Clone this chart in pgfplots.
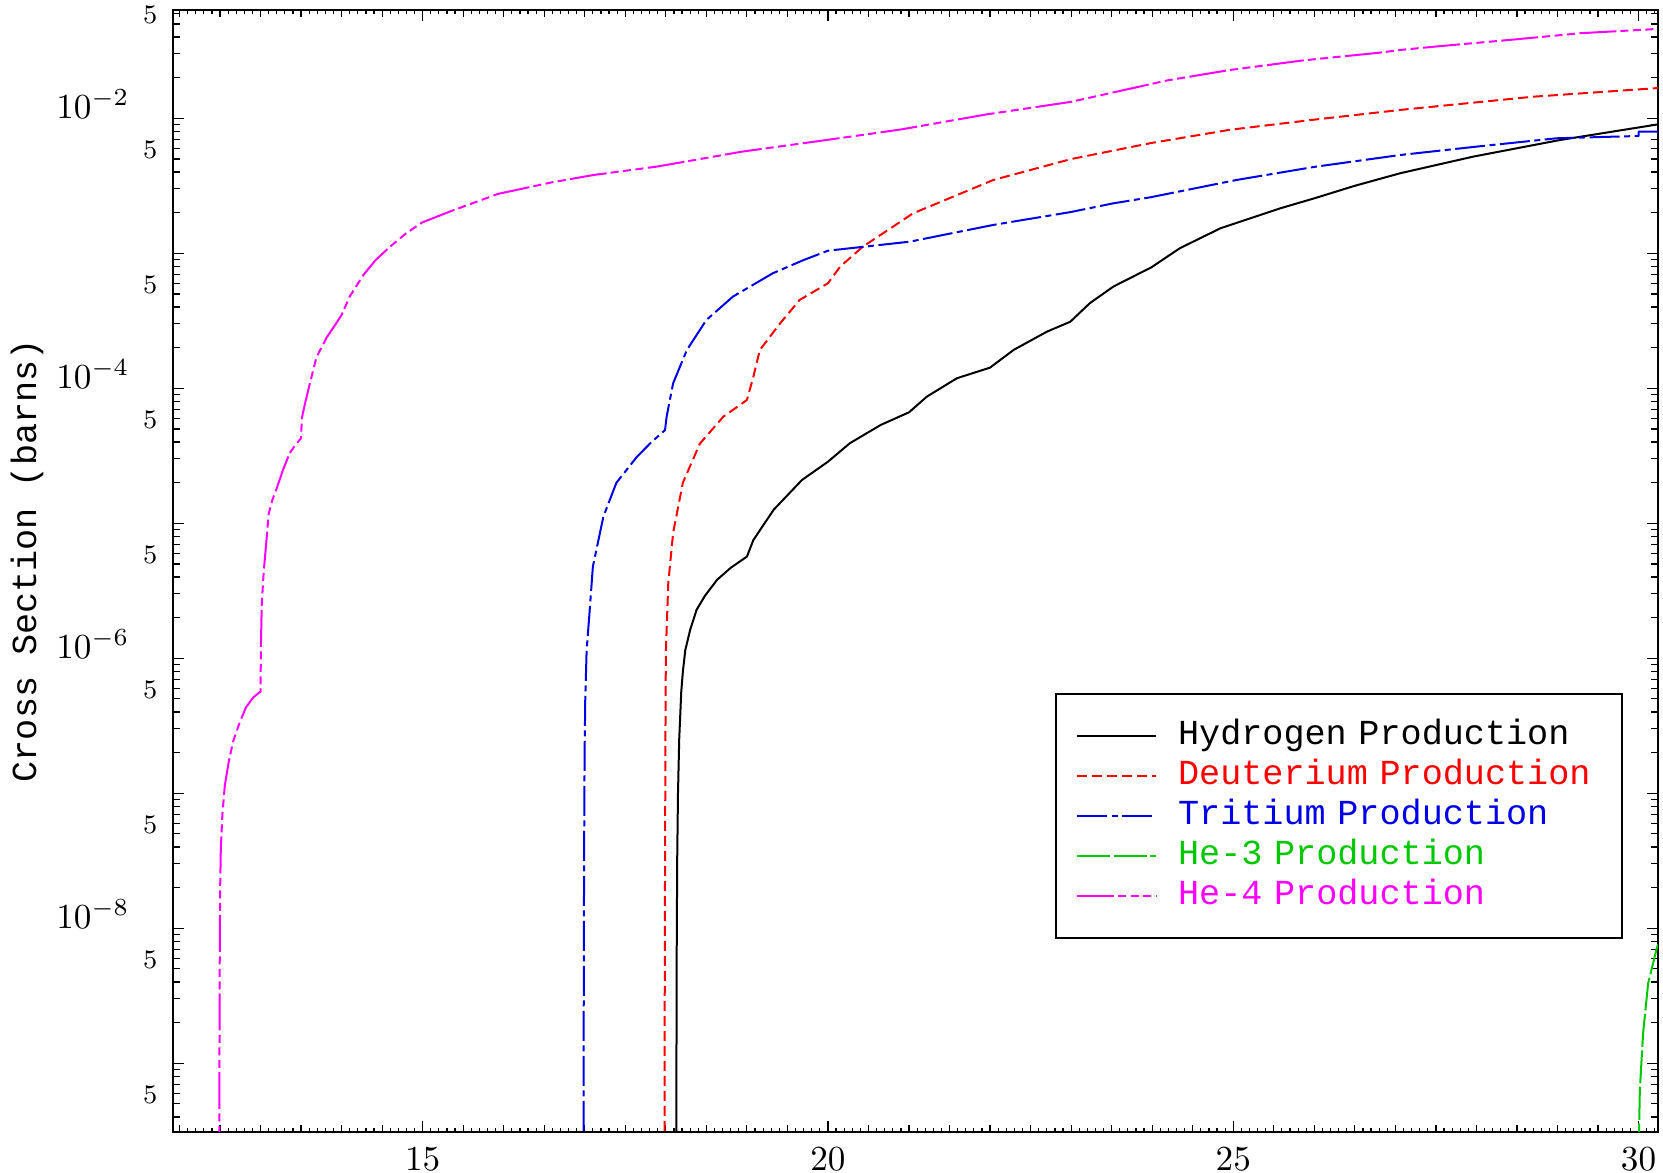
\documentclass[border=0pt]{standalone}
\usepackage{fontspec}
\usepackage{pgfplots}
\pgfplotsset{compat=1.18}
\newfontfamily\monofont{Liberation Mono}
\newcommand\labfont{\monofont\fontsize{10}{11}\selectfont}
\definecolor{hblue}{RGB}{0,0,230}
\definecolor{hgreen}{RGB}{0,200,0}
\definecolor{hmag}{RGB}{255,0,255}

\begin{document}
\begin{tikzpicture}
\begin{axis}[
    at={(0,0)}, anchor=south west,
    width=148.5mm, height=112.17mm, scale only axis,
    ymode=log,
    xmin=11.92, xmax=30.24,
    ymin=3.11e-10, ymax=6.34e-2,
    axis line style={line width=0.22mm},
    every tick/.style={black, line width=0.12mm},
    major tick length=1.12mm,
    minor tick length=0.67mm,
    minor x tick style={/pgfplots/minor tick length=0.4mm},
    xtick={15,20,25,30},
    minor xtick={12,12.1,...,30.2},
    extra x ticks={12,12.5,...,30},
    extra x tick labels={},
    extra x tick style={major tick length=0.67mm},
    xticklabel style={font=\fontsize{9.8}{10}\selectfont, inner sep=0pt, yshift=-1.5mm},
    ytick={1e-9,1e-8,1e-7,1e-6,1e-5,1e-4,1e-3,1e-2},
    yticklabels={,$10^{-8}$,,$10^{-6}$,,$10^{-4}$,,$10^{-2}$},
    yticklabel style={font=\fontsize{9.6}{10}\selectfont, anchor=base east, inner sep=0pt, xshift=-4.3mm},
    minor ytick={4e-10,5e-10,6e-10,7e-10,8e-10,9e-10,
                 2e-9,3e-9,4e-9,5e-9,6e-9,7e-9,8e-9,9e-9,
                 2e-8,3e-8,4e-8,5e-8,6e-8,7e-8,8e-8,9e-8,
                 2e-7,3e-7,4e-7,5e-7,6e-7,7e-7,8e-7,9e-7,
                 2e-6,3e-6,4e-6,5e-6,6e-6,7e-6,8e-6,9e-6,
                 2e-5,3e-5,4e-5,5e-5,6e-5,7e-5,8e-5,9e-5,
                 2e-4,3e-4,4e-4,5e-4,6e-4,7e-4,8e-4,9e-4,
                 2e-3,3e-3,4e-3,5e-3,6e-3,7e-3,8e-3,9e-3,
                 2e-2,3e-2,4e-2,5e-2,6e-2},
    extra y ticks={5e-10,5e-9,5e-8,5e-7,5e-6,5e-5,5e-4,5e-3,5e-2},
    extra y tick labels={5,5,5,5,5,5,5,5,5},
    extra y tick style={tick style={draw=none},
        yticklabel style={font=\fontsize{7.6}{8}\selectfont, xshift=2.8mm}},
    ylabel={Cross Section (barns)},
    ylabel style={font=\labfont, at={(rel axis cs:-0.0983,0.509)}, anchor=center},
    legend style={at={(rel axis cs:0.594,0.3914)}, anchor=north west,
        draw=black, line width=0.2mm, fill=white,
        inner xsep=2mm, inner ysep=2.2mm, row sep=0pt,
        font=\labfont,
        nodes={inner sep=0pt, text width=42.4mm, align=left,
               minimum height=4mm, text height=2.6mm, text depth=0.8mm},
        /tikz/every odd column/.append style={column sep=2.1mm}},
    legend cell align=left,
    legend image code/.code={\draw[#1] (0mm,0mm) -- (7.9mm,0mm);},
    every axis plot/.append style={line width=0.2mm, line join=round},
]
\addplot[black, solid] coordinates {
(18.128,3.16e-11) (18.131,1e-9) (18.134,6.31e-9) (18.14,3.162e-8)
(18.15,1e-7) (18.165,2.512e-7) (18.19,5.623e-7) (18.21,7.943e-7)
(18.24,1.148e-6) (18.30,1.622e-6) (18.38,2.291e-6) (18.48,2.884e-6)
(18.63,3.802e-6) (18.80,4.677e-6) (19.00,5.662e-6) (19.08,7.516e-6)
(19.33,1.259e-5) (19.68,2.094e-5) (20.00,2.858e-5) (20.27,3.917e-5)
(20.65,5.346e-5) (21.00,6.637e-5) (21.22,8.670e-5) (21.59,1.186e-4)
(22.00,1.422e-4) (22.29,1.923e-4) (22.70,2.624e-4) (22.99,3.112e-4)
(23.23,4.266e-4) (23.52,5.662e-4) (23.99,7.870e-4) (24.34,1.089e-3)
(24.84,1.531e-3) (25.58,2.153e-3) (26.00,2.553e-3) (26.50,3.162e-3)
(27.06,3.917e-3) (27.96,5.200e-3) (29.03,6.902e-3) (30.24,9.016e-3)
};
\addlegendentry[text=black]{Hydrogen Production}
\addplot[red, dash pattern=on 1.0mm off 0.5mm] coordinates {
(17.982,3.16e-11) (17.985,1e-9) (17.988,1e-8) (17.992,6.31e-8)
(17.995,2.512e-7) (17.998,6.31e-7) (18.001,1.148e-6) (18.03,3.597e-6)
(18.09,8.511e-6) (18.21,1.995e-5) (18.42,3.890e-5) (18.71,6.166e-5)
(19.00,8.185e-5) (19.08,1.219e-4) (19.16,1.923e-4) (19.41,3.027e-4)
(19.65,4.508e-4) (20.00,5.998e-4) (20.15,7.962e-4) (20.43,1.119e-3)
(21.05,1.977e-3) (21.56,2.649e-3) (22.04,3.491e-3) (23.00,4.989e-3)
(23.98,6.546e-3) (24.96,8.222e-3) (26.00,9.772e-3) (27.06,1.153e-2)
(28.70,1.445e-2) (30.24,1.675e-2)
};
\addlegendentry[text=red]{Deuterium Production}
\addplot[hblue, dash pattern=on 3.0mm off 0.45mm on 0.6mm off 0.45mm] coordinates {
(16.982,3.16e-11) (16.986,1e-9) (16.989,1e-8) (16.993,5.012e-8)
(16.998,1.995e-7) (17.006,5.012e-7) (17.023,1.148e-6) (17.055,2.042e-6)
(17.10,4.786e-6) (17.23,1.122e-5) (17.39,1.995e-5) (17.64,3.090e-5)
(17.82,3.981e-5) (17.99,4.898e-5) (18.01,6.166e-5) (18.09,1.089e-4)
(18.26,1.923e-4) (18.50,3.206e-4) (18.83,4.786e-4) (19.32,7.112e-4)
(19.70,8.913e-4) (20.00,1.045e-3) (21.01,1.219e-3) (22.04,1.622e-3)
(23.00,2.023e-3) (23.52,2.344e-3) (23.98,2.600e-3) (25.04,3.491e-3)
(26.00,4.365e-3) (27.06,5.346e-3) (28.00,6.166e-3) (28.99,7.112e-3)
(30.00,7.396e-3) (30.001,7.962e-3) (30.24,7.962e-3)
};
\addlegendentry[text=hblue]{Tritium Production}
\addplot[hgreen, dash pattern=on 3.3mm off 0.35mm] coordinates {
(29.998,3.16e-11) (30.0,1.995e-10) (30.016,6.339e-10) (30.056,1.667e-9)
(30.118,3.890e-9) (30.22,6.918e-9) (30.24,7.586e-9)
};
\addlegendentry[text=hgreen]{He-3 Production}
\addplot[hmag, dash pattern=on 3.7mm off 0.4mm on 0.8mm off 0.45mm on 0.8mm off 0.45mm on 0.8mm off 0.45mm] coordinates {
(12.49,3.16e-11) (12.493,1e-9) (12.497,6.31e-9) (12.502,2.0e-8)
(12.51,3.89e-8) (12.53,7.08e-8) (12.56,1.148e-7) (12.61,1.738e-7)
(12.66,2.399e-7) (12.74,3.311e-7) (12.82,4.325e-7) (12.91,5.129e-7)
(13.00,5.675e-7) (13.005,1.259e-6) (13.015,2.512e-6) (13.04,4.467e-6)
(13.07,7.079e-6) (13.10,1.175e-5) (13.15,1.514e-5) (13.20,1.820e-5)
(13.28,2.512e-5) (13.36,3.311e-5) (13.43,3.802e-5) (13.50,4.266e-5)
(13.51,6.026e-5) (13.55,7.762e-5) (13.61,1.096e-4) (13.69,1.698e-4)
(13.82,2.399e-4) (13.91,2.884e-4) (14.00,3.491e-4) (14.10,4.786e-4)
(14.27,6.918e-4) (14.42,8.913e-4) (14.60,1.122e-3) (14.80,1.413e-3)
(15.00,1.698e-3) (15.34,2.042e-3) (15.93,2.754e-3) (16.59,3.350e-3)
(17.11,3.802e-3) (17.90,4.395e-3) (18.94,5.662e-3) (19.98,6.902e-3)
(20.91,8.279e-3) (21.95,1.067e-2) (23.00,1.324e-2) (24.18,1.905e-2)
(24.96,2.280e-2) (25.88,2.692e-2) (26.79,3.055e-2) (27.06,3.206e-2)
(27.47,3.388e-2) (28.49,3.846e-2) (29.28,4.266e-2) (30.24,4.592e-2)
};
\addlegendentry[text=hmag]{He-4 Production}
\end{axis}
\pgfresetboundingbox
\path[use as bounding box] (-17.3mm,-4.03mm) rectangle (149.0mm,113.17mm);
\end{tikzpicture}
\end{document}
